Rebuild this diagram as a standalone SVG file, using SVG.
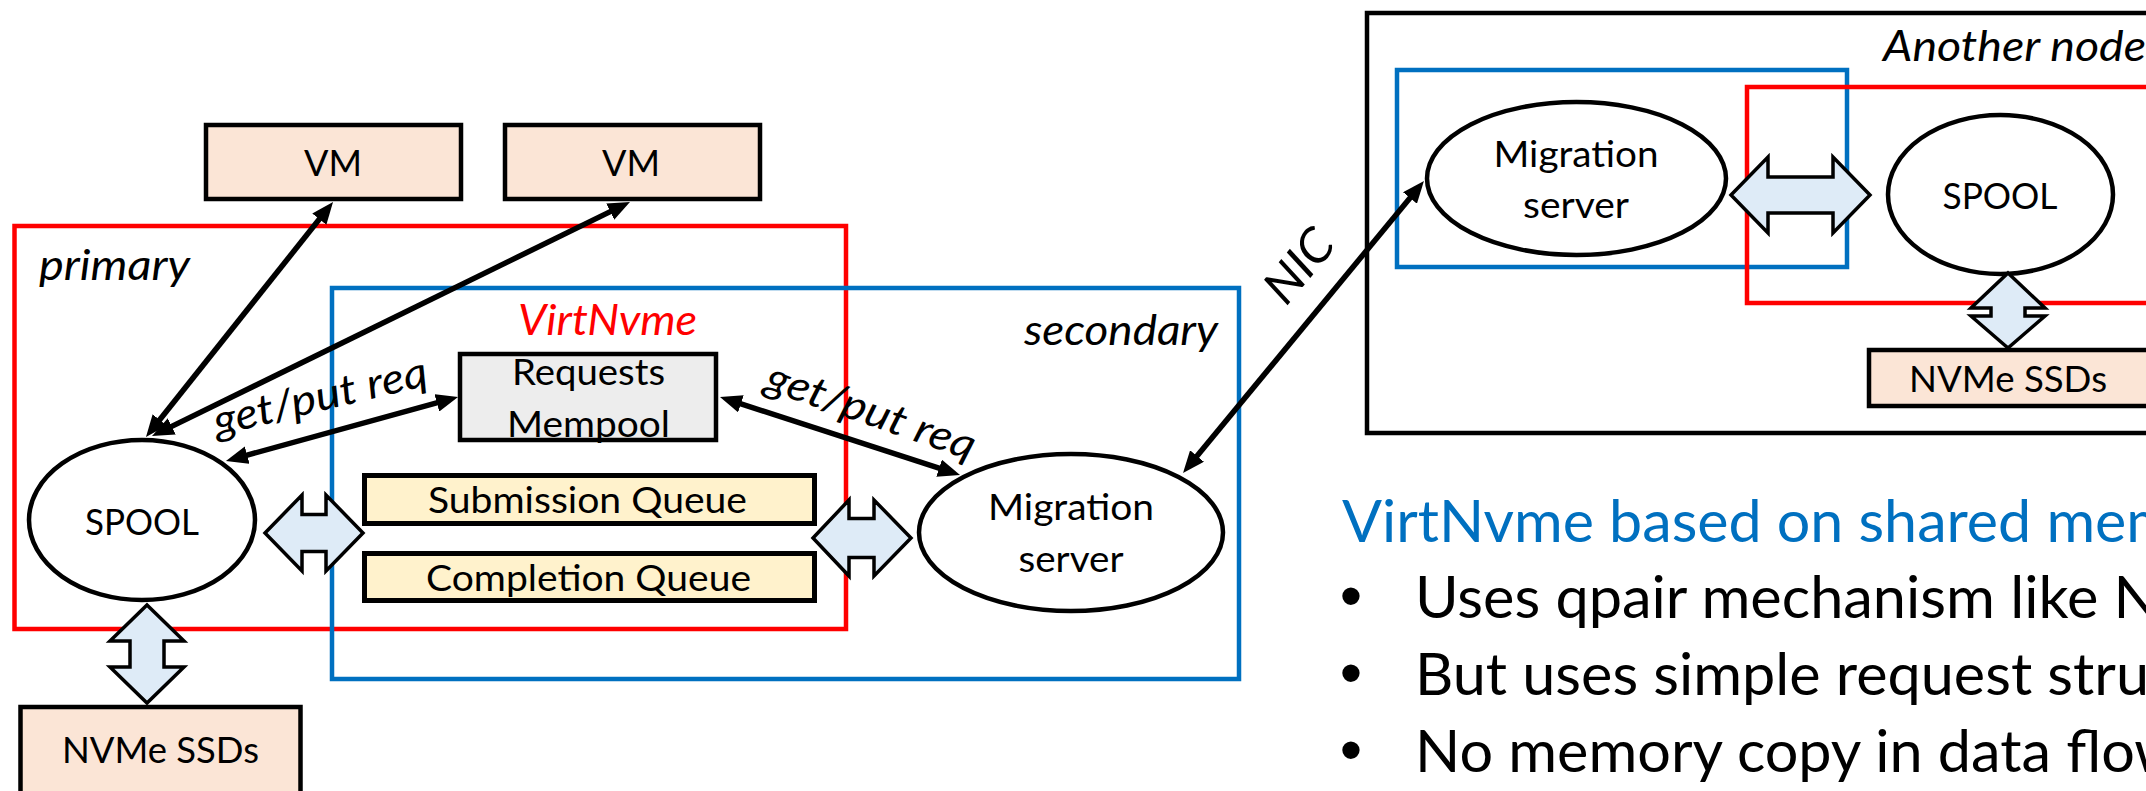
<svg xmlns="http://www.w3.org/2000/svg" width="2146" height="791" viewBox="0 0 2146 791">
  <style>
    .frame { fill: none; stroke-width: 4.5; }
    .red { stroke: #FF0000; }
    .blue { stroke: #0070C0; }
    .black { stroke: #000000; }
    .box { stroke: #000000; stroke-width: 4.5; }
    .vm { fill: #FBE5D6; }
    .queue { fill: #FFF2CC; stroke-width: 5; }
    .pool { fill: #EDEDED; }
    .oval { fill: #FFFFFF; stroke: #000000; stroke-width: 4.5; }
    .wire { fill: none; stroke: #000000; stroke-width: 5.5; }
    .fat { fill: #DEEBF7; stroke: #000000; stroke-width: 3.5; stroke-linejoin: miter; }
    text { font-family: Lato, "Open Sans", "Liberation Sans", sans-serif; fill: #000000; }
    .lbl { font-size: 37.5px; text-anchor: middle; }
    .it { font-size: 42px; font-style: italic; }
    .big { font-size: 57.5px; }
    .dot { font-family: "Liberation Sans", Arial, sans-serif; font-size: 64px; text-anchor: middle; }
    .title { fill: #0070C0; }
    .accent { fill: #FF0000; }
  </style>
  <defs>
    <marker id="ah" markerUnits="userSpaceOnUse" viewBox="0 0 22 18" markerWidth="22" markerHeight="18" refX="12" refY="9" orient="auto-start-reverse">
      <path d="M0,0 L22,9 L0,18 z" fill="#000000"/>
    </marker>
  </defs>

  <!-- container frames -->
  <g id="frames">
    <rect id="primary-frame" class="frame red" x="14.5" y="226" width="831.5" height="403"/>
    <rect id="secondary-frame" class="frame blue" x="332" y="288" width="907" height="391"/>
    <rect id="remote-node-frame" class="frame black" x="1367" y="13" width="820" height="420"/>
    <rect id="remote-secondary-frame" class="frame blue" x="1397" y="70" width="450" height="197"/>
    <rect id="remote-primary-frame" class="frame red" x="1747" y="87" width="440" height="216"/>
  </g>

  <!-- frame captions -->
  <g id="captions">
    <text class="it" x="39" y="280" textLength="151" lengthAdjust="spacingAndGlyphs">primary</text>
    <text class="it accent" x="518" y="335" textLength="179" lengthAdjust="spacingAndGlyphs">VirtNvme</text>
    <text class="it" x="1024" y="345" textLength="194" lengthAdjust="spacingAndGlyphs">secondary</text>
    <text class="it" x="1883" y="61" textLength="263" lengthAdjust="spacingAndGlyphs">Another node</text>
  </g>

  <!-- nodes -->
  <g id="vm-1">
    <rect class="box vm" x="206" y="125" width="255" height="74"/>
    <text class="lbl" x="333" y="176" textLength="58" lengthAdjust="spacingAndGlyphs">VM</text>
  </g>
  <g id="vm-2">
    <rect class="box vm" x="505" y="125" width="255" height="74"/>
    <text class="lbl" x="631" y="176" textLength="58" lengthAdjust="spacingAndGlyphs">VM</text>
  </g>
  <g id="requests-mempool">
    <rect class="box pool" x="460" y="354" width="256" height="86"/>
    <text class="lbl" x="588.5" y="385" textLength="153" lengthAdjust="spacingAndGlyphs">Requests</text>
    <text class="lbl" x="588.5" y="437" textLength="163" lengthAdjust="spacingAndGlyphs">Mempool</text>
  </g>
  <g id="submission-queue">
    <rect class="box queue" x="364.5" y="475.5" width="450" height="48"/>
    <text class="lbl" x="587.5" y="513" textLength="319" lengthAdjust="spacingAndGlyphs">Submission Queue</text>
  </g>
  <g id="completion-queue">
    <rect class="box queue" x="364.5" y="553.5" width="450" height="47"/>
    <text class="lbl" x="588.5" y="591" textLength="325" lengthAdjust="spacingAndGlyphs">Completion Queue</text>
  </g>
  <g id="spool">
    <ellipse class="oval" cx="142" cy="520" rx="113" ry="80"/>
    <text class="lbl" x="142" y="535" textLength="114" lengthAdjust="spacingAndGlyphs">SPOOL</text>
  </g>
  <g id="nvme-ssds">
    <rect class="box vm" x="20.5" y="707" width="280" height="110"/>
    <text class="lbl" x="160.5" y="763" textLength="197" lengthAdjust="spacingAndGlyphs">NVMe SSDs</text>
  </g>
  <g id="migration-server">
    <ellipse class="oval" cx="1071" cy="532.5" rx="152" ry="78.5"/>
    <text class="lbl" x="1071" y="520" textLength="166" lengthAdjust="spacingAndGlyphs">Migration</text>
    <text class="lbl" x="1071" y="572" textLength="105" lengthAdjust="spacingAndGlyphs">server</text>
  </g>
  <g id="remote-migration-server">
    <ellipse class="oval" cx="1576.5" cy="178.5" rx="149.5" ry="76.5"/>
    <text class="lbl" x="1576" y="167" textLength="165" lengthAdjust="spacingAndGlyphs">Migration</text>
    <text class="lbl" x="1576" y="218" textLength="106" lengthAdjust="spacingAndGlyphs">server</text>
  </g>
  <g id="remote-spool">
    <ellipse class="oval" cx="2000.5" cy="194.5" rx="112.5" ry="79.5"/>
    <text class="lbl" x="2000" y="209" textLength="115" lengthAdjust="spacingAndGlyphs">SPOOL</text>
  </g>
  <g id="remote-nvme-ssds">
    <rect class="box vm" x="1869" y="350" width="300" height="56"/>
    <text class="lbl" x="2008" y="392" textLength="198" lengthAdjust="spacingAndGlyphs">NVMe SSDs</text>
  </g>

  <!-- connectors -->
  <g id="connectors">
    <!-- shared-memory block arrows -->
    <polygon class="fat" points="265,533 302,495 302,514.5 326,514.5 326,495 363,533 326,571 326,551.5 302,551.5 302,571"/>
    <polygon class="fat" points="147,605 184,641 164,641 164,667 184,667 147,703 110,667 130,667 130,641 110,641"/>
    <polygon class="fat" points="813,538 849,500 849,518.5 874,518.5 874,500 911,538 874,576 874,557.5 849,557.5 849,576"/>
    <polygon class="fat" points="1731,195 1768,157 1768,177 1833,177 1833,157 1870,195 1833,233 1833,213 1768,213 1768,233"/>
    <polygon class="fat" points="2008,273 2045,308 2025,308 2025,316 2045,316 2008,348 1971,316 1991,316 1991,308 1971,308"/>

    <!-- request lines -->
    <line class="wire" x1="152.2" y1="429.2" x2="326.8" y2="209.8" marker-start="url(#ah)" marker-end="url(#ah)"/>
    <line class="wire" x1="161" y1="431.6" x2="621" y2="206.4" marker-start="url(#ah)" marker-end="url(#ah)"/>
    <line class="wire" x1="235.6" y1="458.3" x2="448.4" y2="399.7" marker-start="url(#ah)" marker-end="url(#ah)"/>
    <line class="wire" x1="729.5" y1="400.1" x2="950.5" y2="471.9" marker-start="url(#ah)" marker-end="url(#ah)"/>
    <line class="wire" x1="1189.4" y1="465.3" x2="1417.6" y2="188.7" marker-start="url(#ah)" marker-end="url(#ah)"/>

    <text class="it" transform="translate(217 436) rotate(-13.5)" textLength="219" lengthAdjust="spacingAndGlyphs">get/put req</text>
    <text class="it" transform="translate(763 389) rotate(19)" textLength="219" lengthAdjust="spacingAndGlyphs">get/put req</text>
    <text class="it" style="font-size:48px" transform="translate(1286 307) rotate(-50)" textLength="80" lengthAdjust="spacingAndGlyphs">NIC</text>
  </g>

  <!-- notes -->
  <g id="notes">
    <text class="big title" x="1342" y="542" textLength="833" lengthAdjust="spacingAndGlyphs">VirtNvme based on shared mem</text>
    <text class="dot" x="1351" y="618">•</text>
    <text class="big" x="1415" y="618" textLength="744" lengthAdjust="spacingAndGlyphs">Uses qpair mechanism like N</text>
    <text class="dot" x="1351" y="695">•</text>
    <text class="big" x="1415" y="695" textLength="734" lengthAdjust="spacingAndGlyphs">But uses simple request stru</text>
    <text class="dot" x="1351" y="772">•</text>
    <text class="big" x="1415" y="772" textLength="766" lengthAdjust="spacingAndGlyphs">No memory copy in data flow</text>
  </g>
</svg>
